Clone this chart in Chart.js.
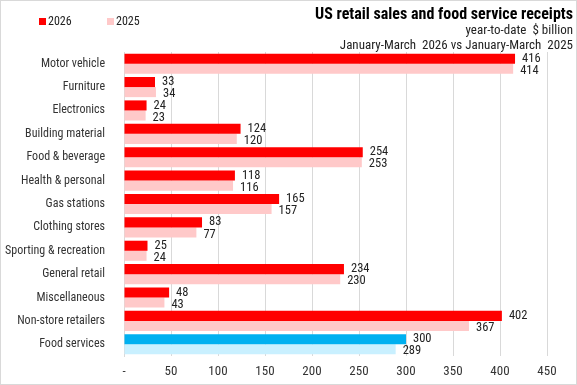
<!DOCTYPE html>
<html><head><meta charset="utf-8">
<script src="https://cdn.jsdelivr.net/npm/chart.js@4/dist/chart.umd.min.js"></script>
<style>
html,body{margin:0;padding:0;background:#fff;}
#wrap{position:relative;width:575px;height:383px;border:1px solid #d9d9d9;overflow:hidden;font-family:"Roboto Condensed",Roboto,sans-serif;}
canvas{position:absolute;left:0;top:0;}
.t{position:absolute;right:3px;white-space:nowrap;color:#000;line-height:1;}
#title{top:5px;font-size:16px;font-weight:bold;}
#sub1{top:22px;font-size:13px;color:#222;}
#sub2{top:37px;font-size:13px;color:#222;}
.lg{position:absolute;top:14px;font-size:12px;color:#222;line-height:1;}
.lg span{display:inline-block;width:7px;height:7px;margin-right:2px;vertical-align:0px;}
</style></head>
<body><div id="wrap">
<canvas id="c" width="575" height="383"></canvas>
<div class="t" id="title">US retail sales and food service receipts</div>
<div class="t" id="sub1">year-to-date&nbsp; $ billion</div>
<div class="t" id="sub2">January-March&nbsp; 2026 vs January-March&nbsp; 2025</div>
<div class="lg" style="left:38px"><span style="background:#FF0000"></span>2026</div>
<div class="lg" style="left:106px"><span style="background:#FFC9C9"></span>2025</div>
</div>
<script>
const categories = ["Motor vehicle","Furniture","Electronics","Building material","Food & beverage","Health & personal","Gas stations","Clothing stores","Sporting & recreation","General retail","Miscellaneous","Non-store retailers","Food services"];
const values2026 = [416,33,24,124,254,118,165,83,25,234,48,402,300];
const values2025 = [414,34,23,120,253,116,157,77,24,230,43,367,289];
const xTicks = [0,50,100,150,200,250,300,350,400,450];

const FONT = '"Roboto Condensed", Roboto, sans-serif';
const c2026 = categories.map((c,i)=> i===categories.length-1 ? "#00B0F0" : "#FF0000");
const c2025 = categories.map((c,i)=> i===categories.length-1 ? "#C9F0FF" : "#FFC9C9");

const labelPlugin = {
  id:'vals',
  afterDatasetsDraw(chart){
    const ctx = chart.ctx;
    ctx.save();
    ctx.font = '12.5px ' + FONT;
    ctx.fillStyle = '#222';
    ctx.textAlign = 'left';
    ctx.textBaseline = 'middle';
    chart.data.datasets.forEach((ds,di)=>{
      chart.getDatasetMeta(di).data.forEach((el,i)=>{
        ctx.fillText(String(ds.data[i]), el.x + 7, el.y + (di===0?0:2));
      });
    });
    ctx.restore();
  }
};

new Chart(document.getElementById('c'), {
  type:'bar',
  data:{
    labels: categories,
    datasets:[
      {label:'2026', data: values2026, backgroundColor: c2026, categoryPercentage:0.86, barPercentage:1},
      {label:'2025', data: values2025, backgroundColor: c2025, categoryPercentage:0.86, barPercentage:1}
    ]
  },
  options:{
    indexAxis:'y',
    responsive:false,
    animation:false,
    layout:{padding:{left:0,right:29,top:51,bottom:4}},
    plugins:{legend:{display:false}, title:{display:false}, tooltip:{enabled:false}},
    scales:{
      x:{
        min:0, max:450,
        afterBuildTicks(s){ s.ticks = xTicks.map(v=>({value:v})); },
        afterFit(s){ s.height = 24; },
        grid:{color:'#d9d9d9', drawTicks:false},
        border:{display:false},
        ticks:{
          padding:8,
          color:'#333',
          font:{family:FONT, size:13},
          callback:(v)=> v===0 ? '-' : String(v)
        }
      },
      y:{
        afterFit(s){ s.width = 123; },
        grid:{display:false},
        border:{display:true,color:'#d9d9d9'},
        ticks:{
          padding:11,
          color:'#333',
          font:{family:FONT, size:12}
        }
      }
    }
  },
  plugins:[labelPlugin]
});
</script>
</body></html>
